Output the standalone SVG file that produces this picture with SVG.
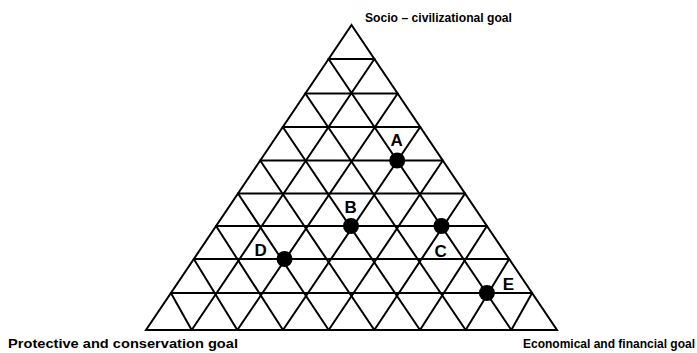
<svg xmlns="http://www.w3.org/2000/svg" width="697" height="353" viewBox="0 0 697 353">
<style>
.g{stroke:#000;stroke-width:2;fill:none;stroke-linecap:round;stroke-linejoin:miter}
.lbl{font-family:"Liberation Sans",Arial,sans-serif;font-weight:bold;fill:#000}
.pt{font-family:"Liberation Sans",Arial,sans-serif;font-weight:bold;font-size:17px;fill:#000;text-anchor:middle}
.dot{fill:#000}
</style>
<rect width="697" height="353" fill="#fff"/>
<g id="connectors" class="g">
<polygon points="351.5,25 146,330 557,330"/>
<line x1="328.59" y1="59" x2="374.41" y2="59"/>
<line x1="305.35" y1="93.5" x2="397.65" y2="93.5"/>
<line x1="282.78" y1="127" x2="420.22" y2="127"/>
<line x1="260.2" y1="160.5" x2="442.8" y2="160.5"/>
<line x1="237.97" y1="193.5" x2="465.03" y2="193.5"/>
<line x1="216.07" y1="226" x2="486.93" y2="226"/>
<line x1="193.84" y1="259" x2="509.16" y2="259"/>
<line x1="170.93" y1="293" x2="532.07" y2="293"/>
<line x1="374.41" y1="59" x2="191.67" y2="330"/>
<line x1="397.65" y1="93.5" x2="237.33" y2="330"/>
<line x1="420.22" y1="127" x2="283" y2="330"/>
<line x1="442.8" y1="160.5" x2="328.67" y2="330"/>
<line x1="465.03" y1="193.5" x2="374.33" y2="330"/>
<line x1="486.93" y1="226" x2="420" y2="330"/>
<line x1="509.16" y1="259" x2="465.67" y2="330"/>
<line x1="532.07" y1="293" x2="511.33" y2="330"/>
<line x1="328.59" y1="59" x2="511.33" y2="330"/>
<line x1="305.35" y1="93.5" x2="465.67" y2="330"/>
<line x1="282.78" y1="127" x2="420" y2="330"/>
<line x1="260.2" y1="160.5" x2="374.33" y2="330"/>
<line x1="237.97" y1="193.5" x2="328.67" y2="330"/>
<line x1="216.07" y1="226" x2="283" y2="330"/>
<line x1="193.84" y1="259" x2="237.33" y2="330"/>
<line x1="170.93" y1="293" x2="191.67" y2="330"/>
</g>
<g id="goal-socio"><text class="lbl" x="365" y="22" font-size="12.5" textLength="147" lengthAdjust="spacingAndGlyphs">Socio – civilizational goal</text></g>
<g id="goal-protective"><text class="lbl" x="8" y="348" font-size="13.5" textLength="230" lengthAdjust="spacingAndGlyphs">Protective and conservation goal</text></g>
<g id="goal-economical"><text class="lbl" x="523" y="348" font-size="12" textLength="172" lengthAdjust="spacingAndGlyphs">Economical and financial goal</text></g>
<g id="point-A"><circle class="dot" cx="397.2" cy="160.5" r="8"/><text class="pt" x="396.7" y="145.5">A</text></g>
<g id="point-B"><circle class="dot" cx="351" cy="226" r="8"/><text class="pt" x="350.7" y="213">B</text></g>
<g id="point-C"><circle class="dot" cx="441.5" cy="226" r="8"/><text class="pt" x="440.7" y="256.5">C</text></g>
<g id="point-D"><circle class="dot" cx="284.5" cy="259" r="8"/><text class="pt" x="260.7" y="256">D</text></g>
<g id="point-E"><circle class="dot" cx="486.9" cy="293" r="8"/><text class="pt" x="508.3" y="289.5">E</text></g>
</svg>
